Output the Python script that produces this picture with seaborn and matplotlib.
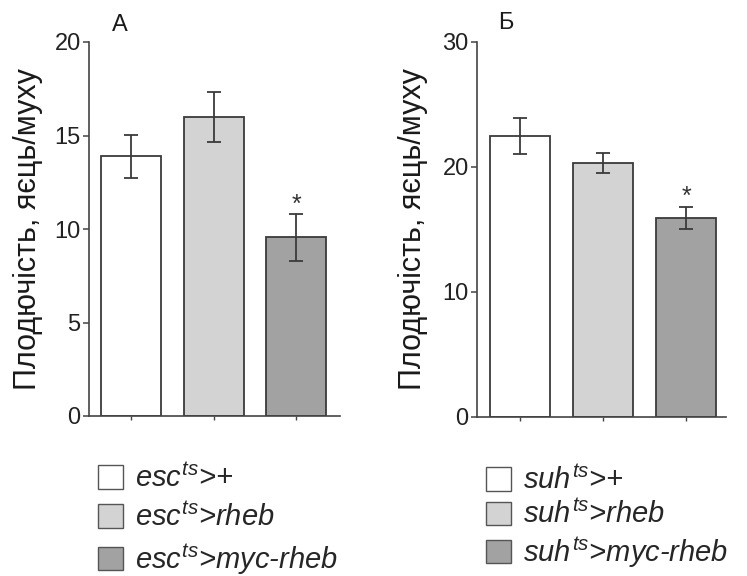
import matplotlib
matplotlib.use("Agg")
import matplotlib.pyplot as plt
import seaborn as sns
import pandas as pd
from matplotlib.patches import Patch

# ---- data ----
labels_a = [r"$esc^{ts}$>+", r"$esc^{ts}$>rheb", r"$esc^{ts}$>myc-rheb"]
values_a = [13.9, 16.0, 9.55]
errors_a = [1.15, 1.35, 1.25]

labels_b = [r"$suh^{ts}$>+", r"$suh^{ts}$>rheb", r"$suh^{ts}$>myc-rheb"]
values_b = [22.5, 20.3, 15.9]
errors_b = [1.45, 0.8, 0.85]

yticks_a = [0, 5, 10, 15, 20]
yticks_b = [0, 10, 20, 30]
ylabel = "Плодючість, яєць/муху"
panel_titles = ["А", "Б"]
bar_colors = ["#ffffff", "#d3d3d3", "#a2a2a2"]

sns.set_style("ticks")
plt.rcParams["font.family"] = ["Liberation Sans", "DejaVu Sans"]
plt.rcParams["mathtext.fontset"] = "custom"
plt.rcParams["mathtext.it"] = "Liberation Sans:italic"
plt.rcParams["mathtext.rm"] = "Liberation Sans"

edge = "#3a3a3a"
fig = plt.figure(figsize=(7.47, 5.76), dpi=100)
W, H = 747, 576


def px_axes(l, r, top, bottom):
    return fig.add_axes([l / W, 1 - bottom / H, (r - l) / W, (bottom - top) / H])


ax_a = px_axes(89, 340, 42, 416)
ax_b = px_axes(477, 726, 42, 416.7)

panels = [
    (ax_a, labels_a, values_a, errors_a, yticks_a, 20, (-0.51, 2.53), -0.183, 0.123, 1.045, 11.3, (98, 464), 0.33),
    (ax_b, labels_b, values_b, errors_b, yticks_b, 30, (-0.52, 2.48), -0.197, 0.117, 1.052, 17.6, (486, 466), 0.17),
]

for i, (ax, labs, vals, errs, yt, ymax, xl, lx, tx, ty, star_y, leg_pos, lspace) in enumerate(panels):
    df = pd.DataFrame({"group": labs, "value": vals})
    sns.barplot(data=df, x="group", y="value", hue="group", palette=bar_colors,
                edgecolor=edge, linewidth=1.3, width=0.73, legend=False, ax=ax,
                errorbar=None, saturation=1)
    ax.errorbar(range(len(vals)), vals, yerr=errs, fmt="none", ecolor=edge,
                elinewidth=1.3, capsize=5, capthick=1.3)
    ax.text(2, star_y, "*", ha="center", va="center", fontsize=18, color="#333333")
    ax.set_ylim(0, ymax)
    ax.set_yticks(yt)
    ax.set_xlim(*xl)
    ax.set_xticklabels([])
    ax.set_xlabel("")
    ax.set_ylabel(ylabel, fontsize=22, color="#1a1a1a")
    ax.yaxis.set_label_coords(lx, 0.5)
    ax.tick_params(axis="y", labelsize=17, length=4, width=1.1, colors="#444444", labelcolor="#222222", pad=2)
    ax.tick_params(axis="x", length=3, width=1.0, colors="#444444")
    for s in ["left", "bottom"]:
        ax.spines[s].set_color("#444444")
        ax.spines[s].set_linewidth(1.2)
    sns.despine(ax=ax)
    ax.text(tx, ty, panel_titles[i], transform=ax.transAxes, ha="center", va="center",
            fontsize=17, color="#1a1a1a")
    handles = [Patch(facecolor=c, edgecolor="#555555", linewidth=1.0) for c in bar_colors]
    fig.legend(handles, labs, loc="upper left",
               bbox_to_anchor=(leg_pos[0] / W, 1 - leg_pos[1] / H),
               frameon=False, prop={"size": 21, "style": "italic"},
               handlelength=0.86, handleheight=0.86, handletextpad=0.41,
               labelspacing=lspace, borderpad=0, borderaxespad=0)

fig.savefig("out.png", dpi=100)
